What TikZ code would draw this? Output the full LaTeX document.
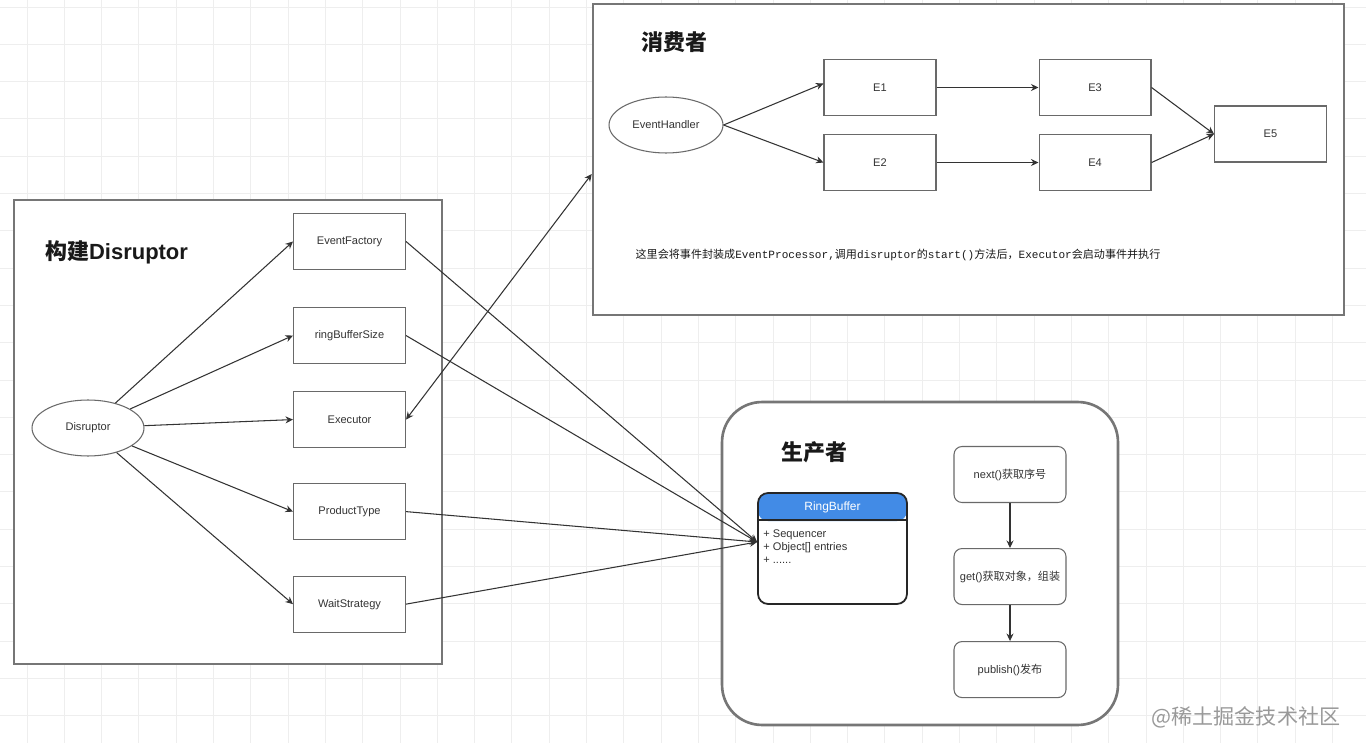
\documentclass[tikz,border=0pt]{standalone}
\usepackage{fontspec}
\setmainfont{Liberation Sans}
\newfontfamily\cjk{Noto Sans CJK SC}
\newfontfamily\codefont{Liberation Mono}
\usetikzlibrary{arrows.meta,positioning,shapes.geometric}
\definecolor{rbblue}{RGB}{66,139,230}
\definecolor{inkgray}{RGB}{51,51,51}
\definecolor{edgegray}{RGB}{105,105,105}
\definecolor{panelgray}{RGB}{118,118,118}
\definecolor{gridgray}{RGB}{238,238,238}

\begin{document}
\begin{tikzpicture}[
  x=0.02cm, y=-0.02cm,
  gridline/.style={gridgray,line width=0.5pt},
  panel/.style={draw=panelgray,line width=1.5pt,fill=white,inner sep=0pt},
  box/.style={draw=edgegray,line width=0.6pt,fill=white,minimum width=2.24cm,
    minimum height=1.12cm,inner sep=0pt,text=inkgray,font=\fontsize{6.3}{7.5}\selectfont},
  oval/.style={box,ellipse},
  stepbox/.style={box,rounded corners=0.16cm},
  title/.style={font=\bfseries\fontsize{12.5}{15}\selectfont,text=black!90},
  umlbox/.style={draw=black!85,line width=1pt,fill=white,rounded corners=0.2cm,
    minimum width=2.98cm,minimum height=2.22cm,inner sep=0pt,
    path picture={\fill[rbblue] (path picture bounding box.north west) rectangle
      ([yshift=-0.56cm]path picture bounding box.north east);}},
  field/.style={text=inkgray,font=\fontsize{6.3}{7.4}\selectfont,align=left,inner sep=0pt},
  note/.style={text=black!90,font=\fontsize{6.3}{7.5}\selectfont,inner sep=0pt},
  wmtext/.style={text=black!40,font=\cjk\fontsize{12}{14}\selectfont},
  flow/.style={-{Stealth[length=1.5mm,width=1.4mm]},line width=0.6pt,black!80},
  dflow/.style={{Stealth[length=1.5mm,width=1.4mm]}-{Stealth[length=1.5mm,width=1.4mm]},line width=0.6pt,black!80}
]
  \useasboundingbox (0,0) rectangle (1366,743);
  \fill[white] (0,0) rectangle (1366,743);
  \foreach \k in {0,...,35}
    \draw[gridline] ({27+37.3*\k},0) -- ({27+37.3*\k},743);
  \foreach \k in {0,...,19}
    \draw[gridline] (0,{7+37.3*\k}) -- (1366,{7+37.3*\k});

  \node[panel,minimum width=8.56cm,minimum height=9.28cm] (builder) at (228,432) {};
  \node[panel,minimum width=15.02cm,minimum height=6.22cm] (consumer) at (968.5,159.5) {};
  \node[panel,rounded corners=0.8cm,minimum width=7.92cm,minimum height=6.46cm] (producer) at (920,563.5) {};

  \node[title,anchor=west] (buildtitle) at (39,252) {{\cjk 构建}Disruptor};
  \node[title] (constitle) at (674.5,42) {\cjk 消费者};
  \node[title] (prodtitle) at (814.5,452) {\cjk 生产者};

  \node[oval] (dis) at (88,428) {Disruptor};
  \node[box] (evfac) at (349.5,241.5) {EventFactory};
  \node[box,below=0.74cm of evfac] (rbsize) {ringBufferSize};
  \node[box,below=0.54cm of rbsize] (exec) {Executor};
  \node[box,below=0.70cm of exec] (prodtype) {ProductType};
  \node[box,below=0.71cm of prodtype] (waitstr) {WaitStrategy};

  \node[oval,minimum width=2.28cm] (handler) at (666,125) {EventHandler};
  \node[box] (e1) at (880,87.5) {E1};
  \node[box,below=0.36cm of e1] (e2) {E2};
  \node[box,right=2.04cm of e1] (e3) {E3};
  \node[box,right=2.04cm of e2] (e4) {E4};
  \node[box] (e5) at (1270.5,134) {E5};
  \node[note] (procnote) at (898,255) {{\cjk 这里会将事件封装成}{\codefont EventProcessor,}{\cjk 调用}{\codefont disruptor}{\cjk 的}{\codefont start()}{\cjk 方法后，}{\codefont Executor}{\cjk 会启动事件并执行}};

  \node[umlbox] (rb) at (832.5,548.5) {};
  \draw[black!85,line width=0.8pt] ([yshift=-0.56cm]rb.north west) -- ([yshift=-0.56cm]rb.north east);
  \node[text=white,font=\fontsize{6.8}{8}\selectfont] (rbname) at (832.5,507.5) {RingBuffer};
  \node[field,anchor=north west] (rbfields) at (763,529) {+ Sequencer\\+ Object[] entries\\+ ......};
  \node[stepbox] (nextseq) at (1010,474.5) {next(){\cjk 获取序号}};
  \node[stepbox,below=0.90cm of nextseq] (getobj) {get(){\cjk 获取对象，组装}};
  \node[stepbox,below=0.72cm of getobj] (publish) {publish(){\cjk 发布}};

  \draw[flow] (dis) -- (evfac.west);
  \draw[flow] (dis) -- (rbsize.west);
  \draw[flow] (dis) -- (exec.west);
  \draw[flow] (dis) -- (prodtype.west);
  \draw[flow] (dis) -- (waitstr.west);
  \draw[flow] (evfac.east) -- ([yshift=0.13cm]rb.west);
  \draw[flow] (rbsize.east) -- ([yshift=0.13cm]rb.west);
  \draw[flow] (prodtype.east) -- ([yshift=0.13cm]rb.west);
  \draw[flow] (waitstr.east) -- ([yshift=0.13cm]rb.west);
  \draw[dflow] (exec.east) -- ([yshift=-0.29cm]consumer.west);
  \draw[flow] (handler.east) -- ([yshift=0.08cm]e1.west);
  \draw[flow] (handler.east) -- (e2.west);
  \draw[flow] (e1) -- (e3);
  \draw[flow] (e2) -- (e4);
  \draw[flow] (e3.east) -- (e5.west);
  \draw[flow] (e4.east) -- (e5.west);
  \draw[flow] (nextseq) -- (getobj);
  \draw[flow] (getobj) -- (publish);

  \node[wmtext] (watermark) at (1246,717) {@稀土掘金技术社区};
\end{tikzpicture}
\end{document}
